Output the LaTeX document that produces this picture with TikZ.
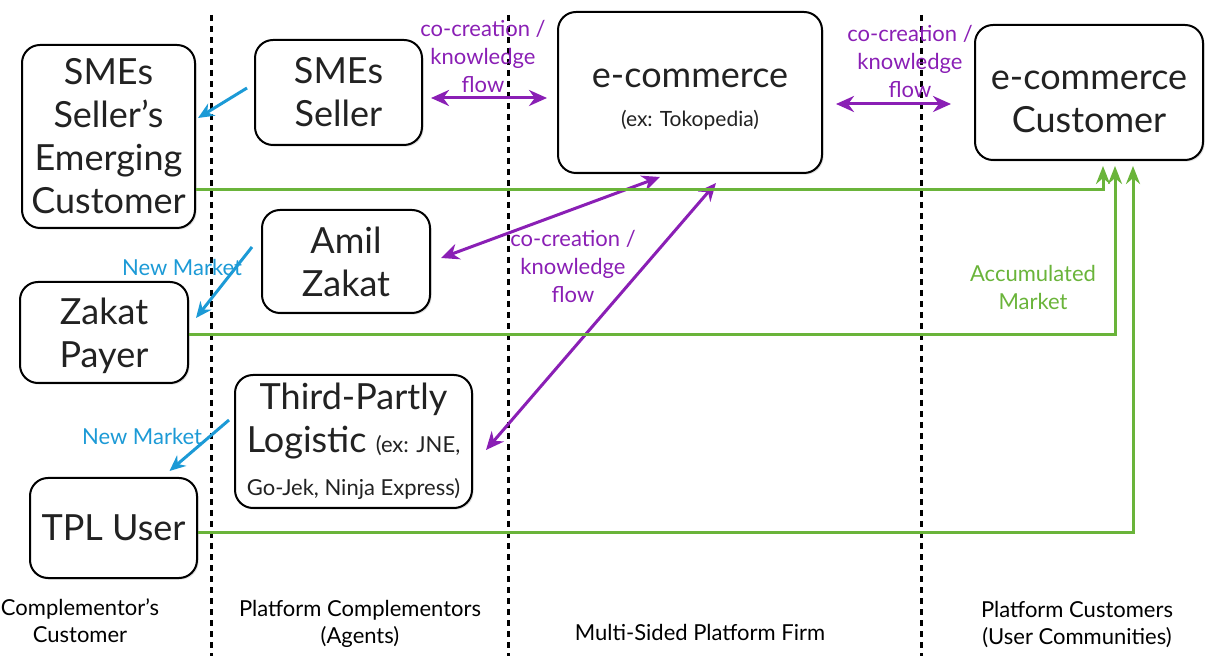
\documentclass[tikz,border=0pt]{standalone}
\usepackage{fontspec}
\setmainfont{Lato}
\usetikzlibrary{arrows.meta,shadows}
\definecolor{flowpurple}{HTML}{8A1FB5}
\definecolor{mktblue}{HTML}{1C9AD6}
\definecolor{mktgreen}{HTML}{6AB43A}
\definecolor{boxtext}{HTML}{222222}
\tikzset{
  actor/.style={draw=black, line width=1pt, rounded corners=9pt, fill=white,
    align=center, text=boxtext, font=\fontsize{18}{21.5}\selectfont,
    drop shadow={shadow xshift=0.8pt, shadow yshift=-0.8pt, opacity=0.25}},
  divider/.style={line width=1.5pt, dash pattern=on 3pt off 2.5pt},
  flow/.style={{Stealth[length=9pt,width=8pt]}-{Stealth[length=9pt,width=8pt]}, flowpurple, line width=1.5pt},
  newmkt/.style={-{Stealth[length=8pt,width=7pt]}, mktblue, line width=1.5pt},
  accmkt/.style={-{Stealth[length=9pt,width=7pt]}, mktgreen, line width=1.5pt},
  flowlbl/.style={align=center, text=flowpurple, font=\fontsize{11}{14}\selectfont},
  mktlbl/.style={align=center, font=\fontsize{11}{14}\selectfont},
  lanelbl/.style={align=center, text=black, font=\fontsize{11}{13.5}\selectfont}
}
\begin{document}
\begin{tikzpicture}[x=0.5pt,y=-0.5pt]
  \useasboundingbox (0,0) rectangle (1208,656);
  % lane dividers
  \foreach \xx in {211,508,921}
    \draw[divider] (\xx,15) -- (\xx,656);
  % actors
  \node[actor, minimum width=86.5pt, minimum height=91.5pt] (smecust) at (108.5,136.5)
    {SMEs\\Seller’s\\Emerging\\Customer};
  \node[actor, minimum width=83.5pt, minimum height=52.5pt] (smeseller) at (338.5,92.5)
    {SMEs\\Seller};
  \node[actor, minimum width=132pt, minimum height=80.5pt, text height=36pt] (ecom) at (690,92.5)
    {e-commerce\\[-2pt]{\fontsize{10.5}{13}\selectfont (ex: Tokopedia)}};
  \node[actor, minimum width=114pt, minimum height=67.5pt, text height=40.5pt] (ecust) at (1089,92.5)
    {e-commerce\\Customer};
  \node[actor, minimum width=84pt, minimum height=51.5pt] (amil) at (346,261.5)
    {Amil\\Zakat};
  \node[actor, minimum width=84pt, minimum height=50.5pt, text height=38pt] (payer) at (104,332.5)
    {Zakat\\Payer};
  \node[actor, minimum width=118.5pt, minimum height=66.5pt] (tpl) at (353.5,441.5)
    {Third-Partly\\Logistic {\fontsize{11}{14}\selectfont (ex: JNE,}\\
     {\fontsize{11}{14}\selectfont Go-Jek, Ninja Express)}};
  \node[actor, minimum width=83.5pt, minimum height=50pt] (tpluser) at (113.5,528)
    {TPL User};
  % co-creation / knowledge flow
  \draw[flow] ([shift={(4pt,-2.75pt)}]smeseller.east) -- ([shift={(-5pt,-2.75pt)}]ecom.west);
  \draw[flow] ([shift={(6.5pt,-5.75pt)}]ecom.east) -- ([shift={(-11.5pt,-5.75pt)}]ecust.west);
  \draw[flow] ([shift={(5pt,1.75pt)}]amil.east) -- ([shift={(-15pt,-1.5pt)}]ecom.south);
  \draw[flow] ([shift={(6.5pt,-4.25pt)}]tpl.east) -- ([shift={(13pt,-4.5pt)}]ecom.south);
  \node[flowlbl] (flowa) at (483,56) {co-creation /\\knowledge\\flow};
  \node[flowlbl] (flowb) at (910,61) {co-creation /\\knowledge\\flow};
  \node[flowlbl] (flowc) at (573,266) {co-creation /\\knowledge\\flow};
  % new market
  \draw[newmkt] ([shift={(-3.5pt,2.25pt)}]smeseller.west) -- ([shift={(1pt,9.25pt)}]smecust.east);
  \draw[newmkt] ([shift={(-4.5pt,7.25pt)}]amil.west) -- ([shift={(3.5pt,7.25pt)}]payer.east);
  \draw[newmkt] ([shift={(-2.5pt,10.75pt)}]tpl.west) -- ([shift={(28pt,3pt)}]tpluser.north);
  \node[mktlbl, text=mktblue] (nmkta) at (182,267) {New Market};
  \node[mktlbl, text=mktblue] (nmktb) at (142,436) {New Market};
  % accumulated market
  \draw[accmkt] (smecust.east |- 0,190) -| ([shift={(7pt,-2.5pt)}]ecust.south);
  \draw[accmkt] (payer.east |- 0,335) -| ([shift={(13pt,-2.5pt)}]ecust.south);
  \draw[accmkt] (tpluser.east |- 0,533) -| ([shift={(22pt,-2.5pt)}]ecust.south);
  \node[mktlbl, text=mktgreen] (accum) at (1033,287) {Accumulated\\Market};
  % lane captions
  \node[lanelbl] (lanea) at (80,621) {Complementor’s\\Customer};
  \node[lanelbl] (laneb) at (360,624) {Platform Complementors\\(Agents)};
  \node[lanelbl] (lanec) at (700,632) {Multi-Sided Platform Firm};
  \node[lanelbl] (laned) at (1077,625) {Platform Customers\\(User Communities)};
\end{tikzpicture}
\end{document}
